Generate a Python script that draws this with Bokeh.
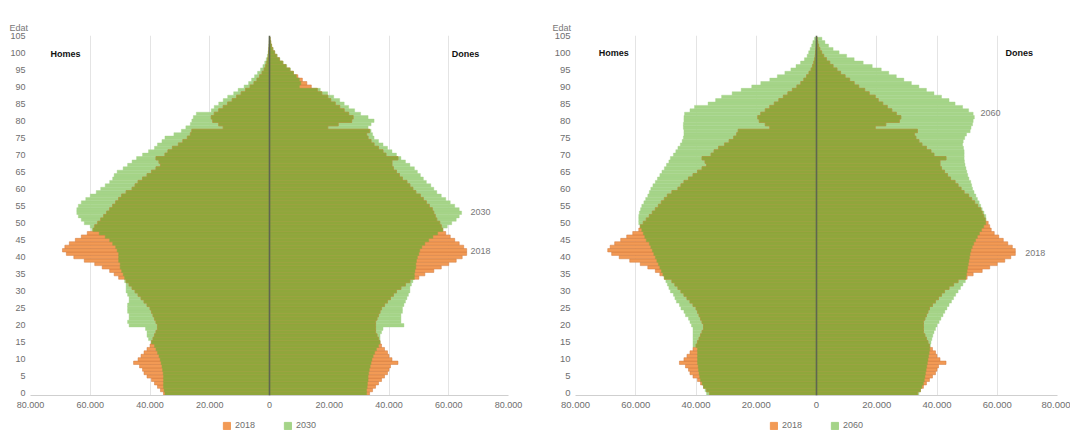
import numpy as np
from bokeh.plotting import figure
from bokeh.layouts import row, column
from bokeh.models import (Span, Label, Legend, LegendItem, FixedTicker,
                          CustomJSTickFormatter, Range1d)
from bokeh.embed import file_html
from bokeh.resources import INLINE

# ---------------- data (thousands of persons, ages 0..104) ----------------
AGES = list(range(0, 105))
Y_TICKS = list(range(0, 106, 5))
X_TICKS = [-80000, -60000, -40000, -20000, 0, 20000, 40000, 60000, 80000]

HOMES_2018 = [35.5, 36.5, 37.5, 38.5, 39.5, 41.0, 42.0, 42.5, 43.5, 45.5,
              44.0, 43.0, 42.0, 41.0, 40.0, 39.5, 39.0, 38.5, 38.0, 37.5,
              37.5, 38.0, 38.5, 39.0, 39.5, 40.0, 41.0, 42.0, 43.0, 44.0,
              45.0, 46.0, 47.0, 48.0, 50.5, 52.0, 53.5, 56.0, 58.5, 62.0,
              65.5, 68.0, 69.3, 68.5, 67.0, 65.0, 63.0, 61.0, 59.0, 58.5,
              57.5, 56.5, 55.5, 54.5, 53.5, 52.5, 51.5, 50.5, 49.5, 48.0,
              46.0, 45.0, 44.0, 42.5, 41.0, 39.5, 38.0, 36.5, 37.0, 38.0,
              35.0, 34.0, 32.5, 30.5, 29.0, 27.5, 26.5, 26.0, 15.5, 17.0,
              19.0, 19.5, 18.5, 17.0, 15.5, 14.0, 12.5, 11.0, 9.5, 8.0,
              6.5, 5.2, 4.2, 3.3, 2.5, 1.8, 1.3, 0.9, 0.6, 0.4,
              0.3, 0.2, 0.1, 0.05, 0.02]
DONES_2018 = [33.5, 34.5, 35.5, 36.5, 37.5, 38.5, 39.5, 40.0, 40.5, 43.0,
              41.0, 40.0, 39.5, 38.5, 37.5, 37.0, 36.5, 36.0, 35.5, 35.5,
              35.5, 35.5, 36.0, 36.5, 37.0, 37.5, 38.5, 39.5, 40.5, 41.5,
              42.5, 44.0, 45.5, 47.0, 50.0, 52.0, 55.0, 57.5, 60.0, 62.5,
              64.5, 66.0, 66.0, 65.0, 63.5, 62.0, 60.5, 59.0, 58.0, 57.5,
              57.0, 56.0, 55.5, 55.0, 54.5, 53.5, 52.5, 51.5, 50.5, 49.0,
              48.0, 47.0, 46.0, 44.5, 43.5, 42.5, 41.5, 41.0, 41.0, 43.0,
              39.0, 38.0, 36.5, 35.0, 34.0, 33.0, 32.5, 33.5, 19.5, 23.0,
              27.5, 28.0, 26.5, 25.0, 23.5, 22.0, 20.5, 19.5, 17.5, 16.0,
              14.0, 12.5, 11.0, 9.5, 8.0, 6.8, 5.5, 4.4, 3.3, 2.4,
              1.7, 1.1, 0.7, 0.4, 0.2]
HOMES_2030 = [35.0, 35.3, 35.5, 35.5, 35.5, 35.5, 35.6, 35.8, 36.0, 36.3,
              36.6, 37.0, 37.5, 38.0, 38.5, 39.5, 40.5, 41.0, 41.0, 41.5,
              47.0, 47.5, 47.0, 47.0, 47.5, 47.5, 47.5, 47.0, 47.0, 47.5,
              48.0, 48.0, 48.0, 48.5, 48.5, 49.0, 49.5, 50.0, 50.0, 50.5,
              50.5, 50.5, 51.0, 51.5, 52.5, 53.5, 55.0, 57.0, 59.5, 60.0,
              62.0, 63.0, 64.0, 64.5, 64.5, 64.0, 63.0, 61.5, 60.0, 58.0,
              56.5, 55.0, 53.5, 52.5, 52.0, 51.0, 49.0, 47.5, 46.0, 44.5,
              42.5, 40.5, 38.5, 37.5, 36.0, 35.0, 32.0, 29.5, 28.0, 26.5,
              26.0, 25.5, 24.5, 19.5, 18.5, 17.0, 15.5, 14.0, 12.0, 10.5,
              8.5, 7.0, 6.0, 5.0, 4.0, 3.0, 2.2, 1.6, 1.1, 0.7,
              0.5, 0.3, 0.2, 0.1, 0.05]
DONES_2030 = [32.5, 32.5, 32.7, 32.8, 33.0, 33.0, 33.2, 33.4, 33.7, 34.0,
              34.3, 34.7, 35.2, 35.8, 36.5, 37.0, 37.0, 37.0, 37.5, 38.0,
              45.0, 44.0, 44.0, 44.0, 44.5, 44.5, 45.0, 45.5, 46.0, 46.5,
              47.0, 47.0, 47.5, 48.0, 48.5, 48.5, 48.7, 49.0, 49.0, 49.2,
              49.5, 50.0, 50.3, 51.0, 52.0, 53.3, 54.7, 56.3, 58.0, 59.5,
              61.0, 62.5, 63.5, 64.3, 63.5, 62.0, 60.5, 59.0, 57.5, 56.0,
              55.0, 54.0, 52.5, 51.5, 50.5, 49.5, 48.5, 47.0, 45.5, 44.0,
              42.5, 41.0, 39.5, 38.0, 36.5, 35.0, 34.5, 34.0, 33.0, 34.0,
              35.0, 33.0, 30.5, 28.5, 26.5, 25.0, 23.5, 21.5, 19.5, 17.0,
              10.0, 10.5, 10.0, 9.0, 8.0, 7.0, 5.8, 4.6, 3.5, 2.6,
              1.8, 1.2, 0.7, 0.4, 0.2]
HOMES_2060 = [36.5, 37.0, 37.5, 38.0, 38.5, 38.8, 39.0, 39.2, 39.3, 39.5,
              39.5, 39.5, 39.5, 39.5, 41.0, 41.0, 41.0, 41.0, 41.0, 41.0,
              41.5, 42.0, 42.5, 43.5, 44.0, 45.0, 45.5, 46.5, 47.0, 47.5,
              48.5, 49.0, 49.5, 50.0, 50.5, 51.0, 51.5, 52.0, 52.5, 53.0,
              53.5, 54.0, 54.5, 55.0, 55.5, 56.5, 57.0, 57.5, 58.0, 58.5,
              59.0, 59.0, 59.0, 58.8, 58.4, 58.0, 57.3, 56.7, 56.0, 55.5,
              55.0, 54.3, 53.5, 52.8, 52.0, 51.3, 50.5, 49.8, 49.0, 48.5,
              47.5, 46.7, 46.0, 45.2, 44.6, 44.2, 44.0, 44.0, 44.2, 44.2,
              44.0, 44.0, 43.8, 42.0, 40.5, 36.0, 33.5, 31.5, 28.0, 25.0,
              21.5, 18.5, 15.5, 13.0, 10.5, 8.5, 6.8, 5.3, 4.0, 3.1,
              2.6, 2.1, 1.6, 1.2, 0.7]
DONES_2060 = [34.0, 34.5, 35.0, 35.5, 35.8, 36.0, 36.2, 36.4, 36.6, 36.8,
              37.0, 37.2, 37.4, 37.6, 37.8, 38.0, 38.3, 38.6, 39.0, 39.5,
              40.0, 40.7, 41.3, 42.0, 42.6, 43.3, 44.0, 44.8, 45.5, 46.2,
              47.0, 47.8, 48.6, 49.4, 49.6, 49.8, 50.0, 50.2, 50.4, 50.6,
              50.8, 51.0, 51.3, 51.7, 52.2, 52.8, 53.4, 54.1, 54.8, 55.5,
              56.2, 56.3, 56.2, 55.6, 55.0, 54.5, 54.0, 53.4, 52.9, 52.3,
              51.8, 51.5, 51.2, 50.6, 50.2, 49.9, 49.6, 49.3, 49.1, 49.0,
              49.0, 49.0, 48.8, 48.5, 48.7, 49.2, 49.8, 51.0, 51.3, 51.8,
              52.0, 52.4, 52.0, 50.5, 48.5, 46.0, 44.0, 41.5, 39.0, 36.5,
              34.0, 31.5, 29.0, 26.5, 24.0, 21.5, 18.5, 15.5, 12.5, 10.0,
              7.5, 5.5, 4.0, 2.8, 1.8]

# ---------------- style ----------------
ORANGE = "#F29A55"
ORANGE_LINE = "#D07A3E"
LGREEN = "#A5D488"
OLIVE = "#8FA73B"
OLIVE_LINE = "#9AA447"
FONT = "Liberation Sans"
TICK_COLOR = "#6e6e6e"


def pyramid(fut_m, fut_f, width, b_left, b_right, tick_size, edat_offset, notes):
    p = figure(width=width, height=415, output_backend="svg", toolbar_location=None,
               x_range=Range1d(-80000, 80000), y_range=Range1d(-0.6, 105),
               min_border_left=b_left, min_border_right=b_right,
               min_border_top=35, min_border_bottom=20)
    p.outline_line_color = None
    p.background_fill_color = "white"

    m18 = np.array(HOMES_2018) * 1000
    f18 = np.array(DONES_2018) * 1000
    mf = np.array(fut_m) * 1000
    ff = np.array(fut_f) * 1000
    zeros = np.zeros(len(AGES))

    # future projection (light green)
    p.hbar(y=AGES, left=-mf, right=zeros, height=1.0, fill_color=LGREEN,
           line_color=LGREEN, line_width=0.4)
    p.hbar(y=AGES, left=zeros, right=ff, height=1.0, fill_color=LGREEN,
           line_color=LGREEN, line_width=0.4)
    # 2018 (orange)
    p.hbar(y=AGES, left=-m18, right=zeros, height=1.0, fill_color=ORANGE,
           line_color=ORANGE_LINE, line_width=0.5)
    p.hbar(y=AGES, left=zeros, right=f18, height=1.0, fill_color=ORANGE,
           line_color=ORANGE_LINE, line_width=0.5)
    # overlap (olive)
    p.hbar(y=AGES, left=-np.minimum(m18, mf), right=zeros, height=1.0,
           fill_color=OLIVE, line_color=OLIVE_LINE, line_width=0.5)
    p.hbar(y=AGES, left=zeros, right=np.minimum(f18, ff), height=1.0,
           fill_color=OLIVE, line_color=OLIVE_LINE, line_width=0.5)

    p.add_layout(Span(location=0, dimension="height", line_color="#5f6650",
                      line_width=1.6))

    # axes
    p.xaxis.ticker = FixedTicker(ticks=X_TICKS)
    p.xaxis.formatter = CustomJSTickFormatter(code="""
        var v = Math.abs(tick);
        if (v == 0) { return '0'; }
        return (v / 1000).toFixed(0) + '.000';
    """)
    p.yaxis.ticker = FixedTicker(ticks=Y_TICKS)
    for ax in (p.xaxis, p.yaxis):
        ax.major_tick_line_color = None
        ax.minor_tick_line_color = None
        ax.major_tick_out = 0
        ax.major_label_text_font = FONT
        ax.major_label_text_font_size = tick_size
        ax.major_label_text_color = TICK_COLOR
    p.xaxis.axis_line_color = "#cfcfcf"
    p.xaxis.major_label_standoff = 6
    p.yaxis.axis_line_color = None
    p.yaxis.major_label_standoff = 5

    p.xgrid.ticker = FixedTicker(ticks=[t for t in X_TICKS if t != 0])
    p.xgrid.grid_line_color = "#e4e4e4"
    p.ygrid.grid_line_color = None

    # "Edat" as the title, shifted left over the age labels
    p.title.text = "Edat"
    p.title.align = "left"
    p.title.offset = edat_offset
    p.title.standoff = 6
    p.title.text_font = FONT
    p.title.text_font_size = "9px"
    p.title.text_font_style = "normal"
    p.title.text_color = "#777777"

    for (x, y, txt, bold) in notes:
        p.add_layout(Label(x=x, y=y, text=txt, text_align="left", text_baseline="middle",
                           text_font=FONT, text_font_size="9px",
                           text_font_style="bold" if bold else "normal",
                           text_color="#111111" if bold else "#777777"))
    return p


def legend_strip(width, fut_m, fut_label):
    # the same series, drawn far outside this strip's ranges: only the legend shows
    q = figure(width=width, height=20, output_backend="svg", toolbar_location=None,
               x_range=Range1d(1e9, 2e9), y_range=Range1d(1e9, 2e9),
               x_axis_location=None, y_axis_location=None, min_border=0)
    q.outline_line_color = None
    q.xgrid.grid_line_color = None
    q.ygrid.grid_line_color = None
    zeros = np.zeros(len(AGES))
    r18 = q.hbar(y=AGES, left=-np.array(HOMES_2018) * 1000, right=zeros, height=1.0,
                 fill_color=ORANGE, line_color=ORANGE)
    rf = q.hbar(y=AGES, left=-np.array(fut_m) * 1000, right=zeros, height=1.0,
                fill_color=LGREEN, line_color=LGREEN)
    legend = Legend(items=[LegendItem(label="2018", renderers=[r18]),
                           LegendItem(label=fut_label, renderers=[rf])],
                    orientation="horizontal", location="center")
    legend.border_line_color = None
    legend.background_fill_alpha = 0
    legend.label_text_font = FONT
    legend.label_text_font_size = "9px"
    legend.label_text_color = TICK_COLOR
    legend.glyph_width = 9
    legend.glyph_height = 9
    legend.label_height = 9
    legend.padding = 2
    legend.margin = 0
    legend.spacing = 28
    legend.label_standoff = 4
    q.add_layout(legend, "center")
    return q


left = pyramid(HOMES_2030, DONES_2030, 540, 30, 32, "9px", -21,
               [(-73300, 99.6, "Homes", True), (61000, 99.6, "Dones", True),
                (67300, 53.2, "2030", False), (67300, 41.8, "2018", False)])
right = pyramid(HOMES_2060, DONES_2060, 530, 35, 13, "9.5px", -23,
                [(-72300, 99.8, "Homes", True), (62700, 99.8, "Dones", True),
                 (54400, 82.2, "2060", False), (69300, 41.1, "2018", False)])

layout = row(column(left, legend_strip(540, HOMES_2030, "2030")),
             column(right, legend_strip(530, HOMES_2060, "2060")))
open("out.html", "w").write(file_html(layout, INLINE))
